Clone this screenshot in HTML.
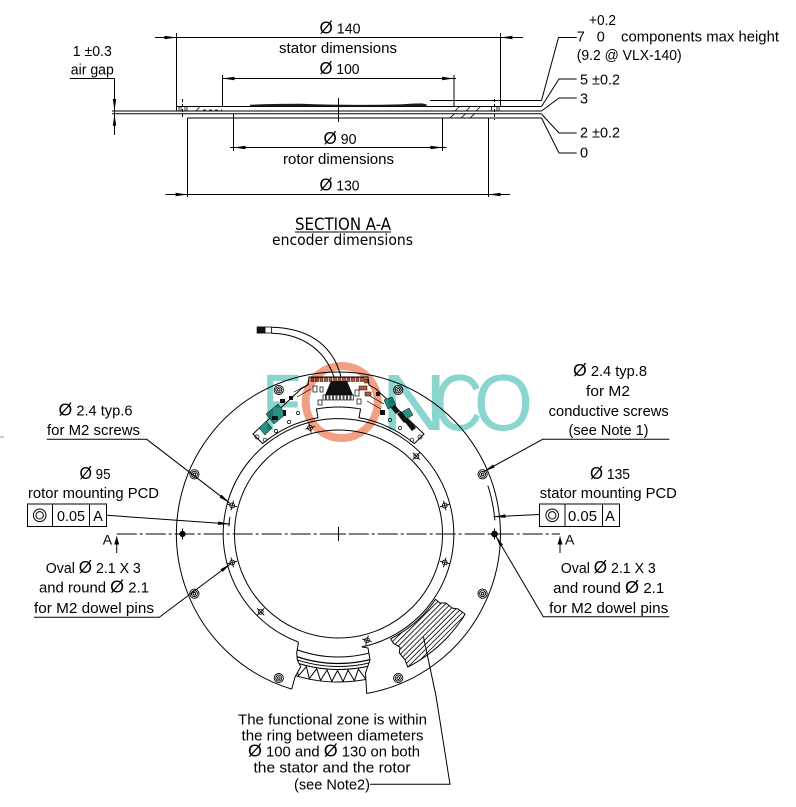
<!DOCTYPE html>
<html><head><meta charset="utf-8">
<style>
html,body{margin:0;padding:0;background:#fff;}
svg{display:block;}
text{font-family:"Liberation Sans",Arial,sans-serif;font-size:14.5px;fill:#000;}
.m{text-anchor:middle;}
.wm{mix-blend-mode:multiply;}
.sec{font-family:"DejaVu Sans Condensed","DejaVu Sans","Liberation Sans",sans-serif;}
.d{font-size:17.5px;}
</style></head><body>
<svg width="796" height="807" viewBox="0 0 796 807" xmlns="http://www.w3.org/2000/svg">
<defs>
<marker id="ar" viewBox="0 0 12 4" refX="12" refY="2" markerWidth="12" markerHeight="4" orient="auto" markerUnits="userSpaceOnUse"><path d="M0,0.3 L12,2 L0,3.7z" fill="#000"/></marker>
<marker id="ab" viewBox="0 0 8 5" refX="8" refY="2.5" markerWidth="8" markerHeight="5" orient="auto" markerUnits="userSpaceOnUse"><path d="M0,0 L8,2.5 L0,5z" fill="#000"/></marker>
<pattern id="hp" width="3.6" height="3.6" patternUnits="userSpaceOnUse" patternTransform="rotate(45)"><line x1="0.5" y1="0" x2="0.5" y2="3.6" stroke="#000" stroke-width="0.8"/></pattern>
<clipPath id="cc"><polygon points="298.5,642.1 296.7,653 297.3,660 300.7,666.7 295,677 291.7,689.1 310,692.5 330,695.8 350,695.5 366.7,693.5 365.5,673 370,660 368,648 361.7,646.9 340,649.3 320,647.5"/></clipPath>
</defs>

<!-- ============ TOP SECTION ============ -->
<g stroke="#000" stroke-width="1" fill="none">
<line x1="155" y1="37.5" x2="523" y2="37.5"/>
<line x1="176.5" y1="33" x2="176.5" y2="106.5"/>
<line x1="500.5" y1="33" x2="500.5" y2="106.5"/>
<path d="M162,37.5 H176.5" marker-end="url(#ar)"/>
<path d="M514,37.5 H500.5" marker-end="url(#ar)"/>
<line x1="222.5" y1="78.5" x2="456" y2="78.5"/>
<line x1="222.5" y1="75" x2="222.5" y2="106.5"/>
<line x1="454" y1="75" x2="454" y2="106.5"/>
<path d="M238,78.5 H222.5" marker-end="url(#ar)"/>
<path d="M440,78.5 H454" marker-end="url(#ar)"/>
<line x1="230" y1="147.5" x2="446.5" y2="147.5"/>
<line x1="233.5" y1="114" x2="233.5" y2="151"/>
<line x1="442.5" y1="118" x2="442.5" y2="151"/>
<path d="M248,147.5 H233.5" marker-end="url(#ar)"/>
<path d="M428,147.5 H442.5" marker-end="url(#ar)"/>
<line x1="165.5" y1="194.5" x2="510" y2="194.5"/>
<line x1="187.5" y1="118" x2="187.5" y2="197"/>
<line x1="488.5" y1="118" x2="488.5" y2="197"/>
<path d="M173,194.5 H187.5" marker-end="url(#ar)"/>
<path d="M503,194.5 H488.5" marker-end="url(#ar)"/>
<line x1="70" y1="78.5" x2="114.5" y2="78.5"/>
<line x1="114.5" y1="78.5" x2="114.5" y2="135"/>
<path d="M114.5,97 V111" marker-end="url(#ar)"/>
<path d="M114.5,127 V113.8" marker-end="url(#ar)"/>
<line x1="176.5" y1="106.5" x2="541.5" y2="106.5"/>
<line x1="112" y1="111" x2="541.5" y2="111"/>
<line x1="112" y1="113.8" x2="541.5" y2="113.8"/>
<line x1="187.5" y1="118" x2="541.5" y2="118"/>
<line x1="176.5" y1="106.5" x2="176.5" y2="111"/>
<line x1="430" y1="100.5" x2="541.5" y2="100.5"/>
<line x1="338.5" y1="98" x2="338.5" y2="122"/>
<line x1="182.5" y1="99" x2="182.5" y2="117" stroke-dasharray="3 2"/>
<line x1="494.5" y1="99" x2="494.5" y2="120" stroke-dasharray="3 2"/>
<g stroke-width="0.8">
<line x1="179" y1="106.5" x2="179" y2="111"/><line x1="181" y1="106.5" x2="181" y2="111"/>
<line x1="185" y1="106.5" x2="185" y2="111"/><line x1="187" y1="106.5" x2="187" y2="111"/>
<line x1="491.5" y1="106.5" x2="491.5" y2="111"/><line x1="497" y1="106.5" x2="497" y2="111"/>
<line x1="499" y1="106.5" x2="499" y2="111"/>
<line x1="196" y1="111" x2="200" y2="106.5"/>
<line x1="203" y1="110" x2="222" y2="110" stroke-dasharray="3 3"/>
<line x1="455" y1="111" x2="459.5" y2="106.5"/><line x1="466" y1="111" x2="470.5" y2="106.5"/>
<line x1="476" y1="111" x2="480.5" y2="106.5"/>
<line x1="450" y1="118" x2="454.5" y2="113.8"/><line x1="461" y1="118" x2="465.5" y2="113.8"/>
<line x1="470" y1="118" x2="474.5" y2="113.8"/>
</g>
<path d="M576.7,37.5 H558.5 L541.5,100.5"/>
<path d="M576.7,79 H559 L541.5,106.5"/>
<path d="M576.7,98 H559 L541.5,111"/>
<path d="M576.7,133 H559 L541.5,114"/>
<path d="M576.7,153 H559 L541.5,118"/>
<line x1="295" y1="232" x2="391" y2="232"/>
</g>
<!-- components blob -->
<polygon points="250,106.5 250,104.8 262,104.3 280,103.9 300,103.8 316,104.2 330,104.6 345,104.8 360,104.9 380,104.8 400,104.4 412,103.6 422,103.4 427,104.5 426,106.5" fill="#1a1a1a"/>

<!-- top texts -->
<text class="m" x="340" y="33.3" textLength="41" lengthAdjust="spacingAndGlyphs"><tspan class="d">Ø</tspan> 140</text>
<text class="m" x="338" y="53" textLength="118" lengthAdjust="spacingAndGlyphs">stator dimensions</text>
<text class="m" x="339.5" y="74" textLength="40" lengthAdjust="spacingAndGlyphs"><tspan class="d">Ø</tspan> 100</text>
<text class="m" x="340" y="144" textLength="33" lengthAdjust="spacingAndGlyphs"><tspan class="d">Ø</tspan> 90</text>
<text class="m" x="338.5" y="164" textLength="111" lengthAdjust="spacingAndGlyphs">rotor dimensions</text>
<text class="m" x="339.5" y="190.5" textLength="40" lengthAdjust="spacingAndGlyphs"><tspan class="d">Ø</tspan> 130</text>
<text class="m sec" x="343" y="229.8" style="font-size:16.5px" textLength="96" lengthAdjust="spacingAndGlyphs">SECTION A-A</text>
<text class="m sec" x="342.5" y="245" style="font-size:15px" textLength="141" lengthAdjust="spacingAndGlyphs">encoder dimensions</text>
<text class="m" x="92.3" y="56" textLength="39" lengthAdjust="spacingAndGlyphs">1 ±0.3</text>
<text class="m" x="92.3" y="74.5" textLength="43" lengthAdjust="spacingAndGlyphs">air gap</text>
<text x="589" y="25" textLength="27" lengthAdjust="spacingAndGlyphs">+0.2</text>
<text x="576.7" y="41.5">7</text>
<text x="596.7" y="41.5">0</text>
<text x="621" y="41.5" textLength="158" lengthAdjust="spacingAndGlyphs">components max height</text>
<text x="576.7" y="60" textLength="105" lengthAdjust="spacingAndGlyphs">(9.2 @ VLX-140)</text>
<text x="580" y="84.3" textLength="40" lengthAdjust="spacingAndGlyphs">5 ±0.2</text>
<text x="580" y="103.3">3</text>
<text x="580" y="137.3" textLength="40" lengthAdjust="spacingAndGlyphs">2 ±0.2</text>
<text x="580" y="157.3">0</text>

<!-- ============ BOTTOM VIEW ============ -->
<line x1="0" y1="437" x2="4" y2="437" stroke="#999" stroke-width="1"/>
<g stroke="#000" stroke-width="1" fill="none">
<path d="M366.7,693.5 A162,162 0 1 0 291.7,689.1"/>
<path d="M361.7,646.9 A115.3,115.3 0 1 0 298.5,642.1"/>
<circle cx="338.5" cy="534" r="104"/>
<path d="M298.5,642.1 L296.7,653 L297.3,660 L300.7,666.7 L295,677 L291.7,689.1"/>
<path d="M361.7,646.9 L368,648 L370,660 L365.5,673 L366.7,693.5"/>
<g clip-path="url(#cc)">
<circle cx="338.5" cy="534" r="123"/>
<circle cx="338.5" cy="534" r="129.5" stroke-width="1.3"/>
<circle cx="338.5" cy="534" r="132.5"/>
<circle cx="338.5" cy="534" r="135.5"/>
<polyline points="296.32,663.83 298.34,675.92 306.41,666.68 309.34,678.59 316.67,668.74 320.52,680.39 327.07,670.02 331.8,681.35 337.54,670.5 343.13,681.43 348.03,670.17 354.43,680.64 358.44,669.04 365.64,678.98 368.74,667.1"/>
<circle cx="338.5" cy="534" r="148"/>
</g>
<path d="M228.8,526.3 A110,110 0 0 1 229.9,516.8"/>
<path d="M494.9,520.3 A157,157 0 0 0 487.8,485.5"/>
<line x1="116.7" y1="534" x2="560" y2="534" stroke-dasharray="20 3 3 3"/>
<line x1="338.5" y1="527" x2="338.5" y2="541"/>
<line x1="331" y1="534" x2="346" y2="534"/>
</g>

<!-- hatched functional zone -->
<path d="M435.5,599.4 A117,117 0 0 1 390.7,638.7 L393.3,643.3 L400,647.3 L399.3,652.7 L405,660 L407.8,667.1 A150,150 0 0 0 462.9,617.9 L465,614 L458,609 L452,608 L446,603 L440,603 Z" fill="url(#hp)" stroke="#000" stroke-width="1"/>

<!-- stator holes -->
<g stroke="#000" stroke-width="0.9" fill="none">
<g transform="translate(482.6,474.3)"><circle r="4.6"/><circle r="3"/><circle r="1.3"/></g>
<g transform="translate(398.2,389.9)"><circle r="4.6"/><circle r="3"/><circle r="1.3"/></g>
<g transform="translate(278.8,389.9)"><circle r="4.6"/><circle r="3"/><circle r="1.3"/></g>
<g transform="translate(194.4,474.3)"><circle r="4.6"/><circle r="3"/><circle r="1.3"/></g>
<g transform="translate(194.4,593.7)"><circle r="4.6"/><circle r="3"/><circle r="1.3"/></g>
<g transform="translate(278.8,678.1)"><circle r="4.6"/><circle r="3"/><circle r="1.3"/></g>
<g transform="translate(398.2,678.1)"><circle r="4.6"/><circle r="3"/><circle r="1.3"/></g>
<g transform="translate(482.6,593.7)"><circle r="4.6"/><circle r="3"/><circle r="1.3"/></g>
</g>
<!-- rotor holes -->
<g stroke="#000" stroke-width="0.9" fill="none">
<g transform="translate(444.75,505.5) rotate(-15)"><circle r="2.4"/><path d="M-5,0H5M0,-5V5"/></g>
<g transform="translate(416.3,456.2) rotate(-45)"><circle r="2.4"/><path d="M-5,0H5M0,-5V5"/></g>
<g transform="translate(310,427.8) rotate(-105)"><circle r="2.4"/><path d="M-5,0H5M0,-5V5"/></g>
<g transform="translate(232.25,505.5) rotate(15)"><circle r="2.4"/><path d="M-5,0H5M0,-5V5"/></g>
<g transform="translate(232.25,562.5) rotate(-15)"><circle r="2.4"/><path d="M-5,0H5M0,-5V5"/></g>
<g transform="translate(260.7,611.8) rotate(45)"><circle r="2.4"/><path d="M-5,0H5M0,-5V5"/></g>
<g transform="translate(367,640.3) rotate(-75)"><circle r="2.4"/><path d="M-5,0H5M0,-5V5"/></g>
<g transform="translate(444.75,562.5) rotate(15)"><circle r="2.4"/><path d="M-5,0H5M0,-5V5"/></g>
</g>
<!-- dowel pins -->
<g stroke="#000" stroke-width="1">
<circle cx="182.5" cy="534" r="2.6" fill="#000"/><path d="M177,534H188M182.5,528.5V539.5"/>
<circle cx="494.5" cy="534" r="2.8" fill="#000"/><path d="M489,534H500M494.5,528.5V539.5"/>
</g>

<!-- cable -->
<rect x="256.7" y="326.5" width="8.5" height="7" fill="#111"/>
<rect x="265" y="327" width="6.5" height="6" fill="#fff" stroke="#000" stroke-width="0.8"/>
<g stroke="#000" stroke-width="1" fill="none">
<path d="M271.5,327.3 C302,328 332,340 341,377"/>
<path d="M271.5,333.3 C299,334 324,347 334,377"/>
</g>

<!-- PCB -->
<path d="M262.65,443.61 L253,434 L301,389 L308,385 L309,377 L368,377 L369,385 L376,389 L424,434 L414.35,443.61 A118,118 0 0 0 358.99,417.79 L360.55,408.93 A127,127 0 0 0 316.45,408.93 L318.01,417.79 A118,118 0 0 0 262.65,443.61 Z" fill="#fff" stroke="#000" stroke-width="1"/>
<g stroke="#000" stroke-width="0.5" fill="#b85a35">
<rect x="311" y="377.5" width="3" height="4"/><rect x="315.5" y="377.5" width="3" height="4"/><rect x="320" y="377.5" width="3" height="4"/><rect x="324.5" y="377.5" width="3" height="4"/><rect x="329" y="377.5" width="3" height="4"/><rect x="333.5" y="377.5" width="3" height="4"/><rect x="338" y="377.5" width="3" height="4"/><rect x="342.5" y="377.5" width="3" height="4"/><rect x="347" y="377.5" width="3" height="4"/><rect x="351.5" y="377.5" width="3" height="4"/><rect x="356" y="377.5" width="3" height="4"/><rect x="360.5" y="377.5" width="3" height="4"/><rect x="364.5" y="379" width="3" height="4"/>
<rect x="359" y="386" width="8" height="4"/><rect x="365" y="392" width="6" height="4"/>
</g>
<polygon points="331,381 347,381 353,395 325,395" fill="#111"/>
<g stroke="#000" stroke-width="0.7" fill="none">
<rect x="323" y="395" width="2.5" height="5"/><rect x="326.5" y="395" width="2.5" height="5"/><rect x="330" y="395" width="2.5" height="5"/><rect x="333.5" y="395" width="2.5" height="5"/><rect x="337" y="395" width="2.5" height="5"/><rect x="340.5" y="395" width="2.5" height="5"/><rect x="344" y="395" width="2.5" height="5"/><rect x="347.5" y="395" width="2.5" height="5"/><rect x="351" y="395" width="2.5" height="5"/>
<rect x="313" y="386" width="4" height="6"/><rect x="320" y="387" width="3" height="5"/><rect x="355" y="390" width="4" height="6"/><rect x="357" y="399" width="4" height="5"/><rect x="318" y="400" width="4" height="5"/>
<circle cx="257" cy="437" r="2"/><circle cx="265" cy="440" r="1.8"/><circle cx="276" cy="431" r="1.6"/><circle cx="289" cy="422" r="1.6"/><circle cx="298" cy="413" r="1.6"/>
<circle cx="420" cy="437" r="2"/><circle cx="412" cy="440" r="1.8"/><circle cx="400" cy="428" r="1.6"/><circle cx="390" cy="420" r="1.6"/>
<path d="M294,392 L309,384 M297,397 L311,389"/>
<path d="M370,396 L384,404 M367,401 L381,409"/>
</g>
<g fill="#2b8f86" stroke="#000" stroke-width="0.5">
<polygon points="266,414 278,404 286,414 274,424"/>
<polygon points="259,428 266,421 272,428 265,435"/>
<polygon points="384,400 392,397 396,405 388,409"/>
<polygon points="402,412 409,408 413,415 406,419"/>
</g>
<g fill="#111">
<rect x="280" y="399" width="5" height="4"/><rect x="289" y="396" width="4" height="4"/><rect x="272" y="416" width="6" height="4"/><rect x="283" y="410" width="3" height="6"/>
<polygon points="397,414 401,411 408,420 404,423"/><polygon points="404,421 408,418 416,428 412,431"/><polygon points="391,408 395,405 400,411 396,414"/>
<rect x="376" y="392" width="4" height="4"/><rect x="380" y="410" width="5" height="5"/>
</g>

<!-- watermark -->
<g class="wm">
<circle cx="341.7" cy="402" r="36" fill="none" stroke="#f2a084" stroke-width="8"/>
<text x="262" y="430" textLength="39" lengthAdjust="spacingAndGlyphs" style="font-size:80px;fill:#8ad6cf">F</text>
<text x="381" y="430" textLength="66" lengthAdjust="spacingAndGlyphs" style="font-size:80px;fill:#8ad6cf">N</text>
<text x="433.5" y="430" textLength="49" lengthAdjust="spacingAndGlyphs" style="font-size:80px;fill:#8ad6cf">C</text>
<text x="474" y="430" textLength="59" lengthAdjust="spacingAndGlyphs" style="font-size:80px;fill:#8ad6cf">O</text>
</g>

<!-- leaders -->
<g stroke="#000" stroke-width="1" fill="none">
<path d="M46.7,439.3 H146.7 L230,503.3" marker-end="url(#ar)"/>
<path d="M106.7,515.3 L230,524" marker-end="url(#ar)"/>
<path d="M34,617.3 H159.3 L231,563.5" marker-end="url(#ar)"/>
<path d="M669.3,439.3 H542.7 L483.5,471.7" marker-end="url(#ar)"/>
<path d="M539.5,514.5 L493.5,516.7" marker-end="url(#ar)"/>
<path d="M669.3,616.7 H543.3 L495.5,535.5" marker-end="url(#ar)"/>
<path d="M370,784.3 H450 L436,696 L423.5,637"/>
<path d="M116.7,553 V536.5" marker-end="url(#ab)"/>
<path d="M560,553 V536.5" marker-end="url(#ab)"/>
<rect x="27.5" y="504" width="79" height="22.5"/>
<line x1="52.5" y1="504" x2="52.5" y2="526.5"/><line x1="89.5" y1="504" x2="89.5" y2="526.5"/>
<circle cx="39.7" cy="515.3" r="6.3"/><circle cx="39.7" cy="515.3" r="3.7"/>
<rect x="539.5" y="504" width="80" height="22.5"/>
<line x1="565" y1="504" x2="565" y2="526.5"/><line x1="602.5" y1="504" x2="602.5" y2="526.5"/>
<circle cx="552.2" cy="515.3" r="6.3"/><circle cx="552.2" cy="515.3" r="3.7"/>
</g>

<!-- bottom texts left -->
<text class="m" x="95.5" y="415.5" textLength="74" lengthAdjust="spacingAndGlyphs"><tspan class="d">Ø</tspan> 2.4 typ.6</text>
<text class="m" x="93.5" y="435" textLength="93" lengthAdjust="spacingAndGlyphs">for M2 screws</text>
<text class="m" x="95" y="479" textLength="31" lengthAdjust="spacingAndGlyphs"><tspan class="d">Ø</tspan> 95</text>
<text class="m" x="93.5" y="498" textLength="131" lengthAdjust="spacingAndGlyphs">rotor mounting PCD</text>
<text class="m" x="71" y="521" textLength="28" lengthAdjust="spacingAndGlyphs">0.05</text>
<text class="m" x="98" y="521">A</text>
<text x="102.7" y="544.3" style="font-size:14px">A</text>
<text class="m" x="93.3" y="573" textLength="95" lengthAdjust="spacingAndGlyphs">Oval  <tspan class="d">Ø</tspan> 2.1 X 3</text>
<text class="m" x="94" y="592.7" textLength="110" lengthAdjust="spacingAndGlyphs">and round  <tspan class="d">Ø</tspan> 2.1</text>
<text class="m" x="94" y="613" textLength="120" lengthAdjust="spacingAndGlyphs">for M2 dowel pins</text>

<!-- bottom texts right -->
<text class="m" x="610" y="376" textLength="74" lengthAdjust="spacingAndGlyphs"><tspan class="d">Ø</tspan> 2.4 typ.8</text>
<text class="m" x="608" y="396" textLength="44" lengthAdjust="spacingAndGlyphs">for M2</text>
<text class="m" x="608.7" y="416" textLength="120" lengthAdjust="spacingAndGlyphs">conductive screws</text>
<text class="m" x="608.5" y="435" textLength="80" lengthAdjust="spacingAndGlyphs">(see Note 1)</text>
<text class="m" x="610" y="479" textLength="40" lengthAdjust="spacingAndGlyphs"><tspan class="d">Ø</tspan> 135</text>
<text class="m" x="608.3" y="498" textLength="137" lengthAdjust="spacingAndGlyphs">stator mounting PCD</text>
<text class="m" x="582.5" y="521" textLength="29" lengthAdjust="spacingAndGlyphs">0.05</text>
<text class="m" x="610" y="521">A</text>
<text x="565" y="544.3" style="font-size:14px">A</text>
<text class="m" x="608.3" y="573" textLength="95" lengthAdjust="spacingAndGlyphs">Oval  <tspan class="d">Ø</tspan> 2.1 X 3</text>
<text class="m" x="608.7" y="593" textLength="111" lengthAdjust="spacingAndGlyphs">and round  <tspan class="d">Ø</tspan> 2.1</text>
<text class="m" x="608.7" y="613" textLength="119" lengthAdjust="spacingAndGlyphs">for M2 dowel pins</text>

<!-- bottom centre note -->
<text class="m" x="332.5" y="724.3" textLength="189" lengthAdjust="spacingAndGlyphs">The functional zone is within</text>
<text class="m" x="332.5" y="740.3" textLength="182" lengthAdjust="spacingAndGlyphs">the ring between diameters</text>
<text class="m" x="334" y="756.7" textLength="172" lengthAdjust="spacingAndGlyphs"><tspan class="d">Ø</tspan> 100 and  <tspan class="d">Ø</tspan> 130 on both</text>
<text class="m" x="332" y="772.7" textLength="157" lengthAdjust="spacingAndGlyphs">the stator and the rotor</text>
<text class="m" x="332" y="789.3" textLength="76" lengthAdjust="spacingAndGlyphs">(see Note2)</text>
</svg>
</body></html>
